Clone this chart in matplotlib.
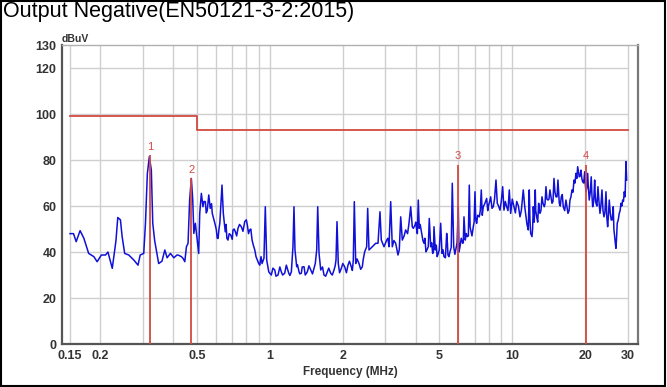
import matplotlib
matplotlib.use('Agg')
import matplotlib.pyplot as plt
from matplotlib.patches import Rectangle

# measured trace (MHz, dBuV): peaks / main shape
freq_mhz = [
    0.150, 0.155, 0.159, 0.165, 0.171, 0.179, 0.188, 0.194, 0.202, 0.210,
    0.215, 0.224, 0.232, 0.236, 0.242, 0.246, 0.252, 0.262, 0.275, 0.286,
    0.292, 0.302, 0.307, 0.3125, 0.3185, 0.3246, 0.329, 0.335, 0.348, 0.359,
    0.369, 0.377, 0.389, 0.402, 0.414, 0.418, 0.432, 0.439, 0.446, 0.453,
    0.460, 0.467, 0.4746, 0.481, 0.486, 0.493, 0.502, 0.509, 0.514, 0.522,
    0.530, 0.542, 0.552, 0.560, 0.568, 0.579, 0.589, 0.602, 0.612, 0.622,
    0.635, 0.643, 0.655, 0.672, 0.690, 0.705, 0.721, 0.739, 0.763, 0.788,
    0.808, 0.826, 0.845, 0.867, 0.888, 0.909, 0.929, 0.946, 0.958, 0.971,
    0.990, 1.014, 1.048, 1.081, 1.115, 1.152, 1.170, 1.197, 1.227, 1.246,
    1.258, 1.270, 1.291, 1.320, 1.349, 1.384, 1.428, 1.475, 1.522, 1.561,
    1.576, 1.596, 1.622, 1.673, 1.726, 1.783, 1.840, 1.875, 1.893, 1.916,
    1.972, 2.036, 2.101, 2.168, 2.210, 2.231, 2.261, 2.333, 2.407, 2.462,
    2.509, 2.533, 2.565, 2.647, 2.733, 2.794, 2.847, 2.883, 2.958, 3.034,
    3.101, 3.152, 3.200, 3.305, 3.378, 3.466, 3.519, 3.634, 3.750, 3.811,
    3.869, 3.906, 3.970, 4.034, 4.096, 4.135, 4.231, 4.324, 4.407, 4.504,
    4.547, 4.608, 4.696, 4.755, 4.814, 4.953, 5.067, 5.130, 5.228, 5.364,
    5.431, 5.535, 5.657, 5.733, 5.859, 5.989, 6.086, 6.244, 6.322, 6.401,
    6.523, 6.648, 6.737, 6.905, 7.018, 7.132, 7.310, 7.451, 7.594, 7.842,
    7.992, 8.146, 8.349, 8.567, 8.673, 8.898, 9.129, 9.242, 9.483, 9.720,
    9.850, 10.16, 10.43, 10.76, 11.10, 11.39, 11.64, 11.75, 11.91, 12.06,
    12.21, 12.44, 12.61, 12.85, 13.01, 13.26, 13.55, 13.77, 14.04, 14.30,
    14.58, 14.86, 15.14, 15.43, 15.63, 15.93, 16.23, 16.65, 16.97, 17.30,
    17.63, 17.97, 18.31, 18.61, 18.89, 19.20, 19.51, 19.89, 20.13, 20.46,
    20.77, 21.17, 21.46, 21.87, 22.14, 22.56, 23.00, 23.44, 23.89, 24.35,
    24.74, 25.12, 25.60, 26.09, 26.44, 26.77, 27.10, 27.62, 28.07, 28.53,
    28.97, 29.44, 29.63,
]
level_dbuv = [
    48.0, 48.0, 44.5, 49.3, 46.0, 39.4, 38.0, 35.8, 38.7, 38.7,
    40.0, 32.9, 45.0, 55.0, 54.0, 46.7, 39.4, 38.7, 36.5, 34.3,
    38.7, 39.4, 52.5, 74.0, 81.5, 75.6, 52.5, 45.0, 35.0, 36.0,
    40.9, 37.5, 39.4, 37.5, 38.7, 38.7, 38.0, 37.2, 35.8, 42.3,
    43.8, 62.6, 72.0, 62.6, 48.1, 52.5, 45.2, 39.4, 56.8, 65.5,
    59.7, 61.9, 58.0, 64.8, 59.0, 56.8, 53.9, 49.6, 45.9, 52.5,
    69.1, 56.8, 48.8, 45.2, 47.4, 49.6, 48.8, 50.3, 51.0, 53.2,
    51.7, 49.6, 45.2, 40.9, 36.5, 34.3, 35.0, 37.3, 59.7, 36.5,
    31.4, 30.0, 32.2, 30.0, 31.4, 30.8, 34.3, 30.8, 31.4, 42.3,
    59.7, 40.9, 33.6, 31.4, 30.8, 33.6, 31.4, 32.2, 32.9, 40.9,
    59.7, 39.4, 32.2, 30.0, 31.4, 30.8, 32.2, 36.5, 53.2, 35.0,
    32.9, 33.6, 34.3, 33.6, 36.5, 61.9, 35.0, 35.0, 33.6, 40.1,
    42.3, 59.0, 40.9, 42.3, 43.8, 43.8, 57.5, 45.2, 42.3, 45.2,
    42.3, 61.9, 42.3, 43.8, 38.7, 55.3, 45.2, 49.6, 52.5, 59.7,
    51.0, 50.3, 51.7, 49.6, 62.6, 50.3, 48.1, 43.8, 40.1, 42.3,
    54.6, 42.3, 39.4, 51.0, 40.9, 39.4, 52.5, 39.4, 38.0, 48.1,
    38.7, 40.1, 69.9, 42.3, 41.6, 59.7, 42.3, 43.8, 55.3, 45.2,
    46.7, 69.1, 49.6, 51.0, 66.2, 52.5, 55.3, 67.0, 59.7, 63.3,
    60.5, 64.0, 59.7, 71.3, 61.2, 58.2, 68.4, 58.2, 59.7, 67.0,
    56.8, 59.7, 62.0, 55.3, 67.0, 55.3, 49.6, 67.0, 48.1, 46.7,
    59.7, 67.0, 55.3, 61.2, 56.8, 64.0, 59.7, 68.4, 62.6, 67.0,
    61.2, 72.0, 64.0, 71.3, 61.2, 64.0, 59.7, 62.6, 56.8, 62.6,
    67.0, 71.3, 74.2, 77.1, 72.7, 75.6, 70.6, 74.9, 66.2, 74.2,
    62.6, 72.7, 59.7, 71.3, 61.2, 68.4, 56.8, 67.0, 55.3, 66.2,
    51.0, 62.6, 53.9, 59.7, 46.7, 41.6, 52.5, 56.8, 61.2, 62.6,
    66.2, 79.3, 71.3,
]

# extra readings of the noise floor between the peaks
noise_freq = [
    0.535, 0.547, 0.575, 0.585, 0.595, 0.607, 0.617, 0.660, 0.665, 0.680,
    0.700, 0.713, 0.730, 0.750, 0.775, 0.800, 0.817, 0.835, 0.855, 0.877,
    0.900, 0.920, 1.03, 1.06, 1.10, 1.13, 1.18, 1.21, 1.30, 1.33,
    1.36, 1.40, 1.45, 1.50, 1.54, 1.65, 1.70, 1.75, 1.81, 1.86,
    1.94, 2.00, 2.07, 2.13, 2.19, 2.29, 2.37, 2.43, 3.07, 3.25,
    3.42, 3.58, 3.70, 4.00, 4.06, 4.17, 4.28, 4.36, 4.45, 4.65,
    4.73, 4.86, 4.90, 5.00, 5.18, 5.30, 5.40, 5.48, 5.60, 5.80,
    5.92, 6.03, 6.16, 6.28, 6.46, 6.59, 6.70, 6.82, 6.96, 7.07,
    7.20, 7.38, 7.52, 7.70, 7.92, 8.07, 8.25, 8.45, 8.78, 9.01,
    9.36, 9.60, 10.0, 10.3, 10.6, 10.9, 11.25, 11.5, 11.83, 12.13,
    12.32, 12.5, 12.73, 12.93, 13.13, 13.4, 13.65, 13.9, 14.17, 14.44,
    14.72, 15.0, 15.3, 15.53, 15.78, 16.08, 16.45, 16.8, 17.15, 17.46,
    17.8, 18.14, 18.46, 18.75, 19.05, 19.36, 19.7, 20.0, 20.3, 20.6,
    20.97, 21.3, 21.67, 22.0, 22.35, 22.78, 23.2, 23.67, 24.1, 24.55,
    24.93, 25.36, 25.84, 26.25, 26.6, 26.92, 27.36, 27.85, 28.3, 28.75,
    29.2,
]
noise_dbuv = [
    62, 57, 61, 55, 52, 46, 50, 52, 46, 48,
    45.5, 50, 47, 52, 49, 54, 48, 50, 43, 38,
    35, 38, 33, 29.5, 33.5, 30, 33, 29.8, 34.5, 30.5,
    33.5, 30, 34, 30.5, 35, 33.5, 29.5, 33, 30, 34,
    31, 35, 31, 36, 32, 37, 32.5, 37, 46, 45,
    41, 47, 48, 53, 48, 52, 45, 46, 41, 44,
    40, 43, 38, 41, 41, 37.5, 44, 38, 42, 39,
    44, 40, 46, 44, 48, 47, 51, 47, 53, 54,
    56, 58, 56, 61, 58, 62, 59, 63, 60, 62,
    62, 58, 63, 57, 60, 58, 60, 52, 54, 50,
    53, 58, 53, 58, 58, 61, 61, 63, 63, 64,
    62, 66, 64, 66, 60, 65, 58, 60, 58, 64,
    66, 70, 72, 75, 73, 72, 70, 70, 68, 68,
    66, 65, 62, 64, 60, 62, 60, 58, 57, 55,
    56, 57, 54, 50, 44, 46, 54, 58, 60, 62,
    64,
]

# limit line
limit_freq = [0.15, 0.5, 0.5, 30]
limit_level = [99, 99, 93, 93]

# markers
marker_freq = [0.32, 0.474, 5.97, 20.13]
marker_level = [82, 72, 78, 78]
marker_labels = ['1', '2', '3', '4']

x_grid = [0.15, 0.2, 0.3, 0.4, 0.5, 0.6, 0.7, 0.8, 0.9, 1,
          2, 3, 4, 5, 6, 7, 8, 9, 10, 20, 30]
x_ticks = [0.15, 0.2, 0.5, 1, 2, 5, 10, 20, 30]
x_ticklabels = ['0.15', '0.2', '0.5', '1', '2', '5', '10', '20', '30']
y_grid = [20, 40, 60, 80, 100, 120]
y_ticks = [0, 20, 40, 60, 80, 100, 120, 130]

plt.rcParams['font.family'] = ['Liberation Sans', 'DejaVu Sans']

trace = sorted(zip(freq_mhz + noise_freq, level_dbuv + noise_dbuv))
trace_f = [p[0] for p in trace]
trace_v = [p[1] for p in trace]

fig = plt.figure(figsize=(6.67, 3.87), dpi=100)
ax = fig.add_axes([0.093, 0.111, 0.8635, 0.7727])

ax.set_xscale('log')
ax.set_xlim(0.139, 33.0)
ax.set_ylim(0, 130)

for f in x_grid:
    ax.axvline(f, color='#cfcfcf', lw=1, zorder=0)
ax.hlines(y_grid, 0.15, 30, color='#cfcfcf', lw=1, zorder=0)

ax.plot(limit_freq, limit_level, color='#d24a43', lw=1.3, zorder=2)

ax.plot(trace_f, trace_v, color='#1010d8', lw=1.1, zorder=3)

for f, v, lab in zip(marker_freq, marker_level, marker_labels):
    ax.vlines(f, 0, v, color='#d24a43', lw=1.3, zorder=4)
    ax.text(f, v + 1.5, lab, color='#d24a43', fontsize=8,
            ha='center', va='bottom', zorder=5)

ax.set_xticks(x_ticks)
ax.set_xticklabels(x_ticklabels)
ax.xaxis.set_minor_locator(matplotlib.ticker.NullLocator())
ax.set_yticks(y_ticks)
ax.tick_params(length=0, labelsize=9, labelcolor='#333333', pad=4)
for t in ax.get_xticklabels() + ax.get_yticklabels():
    t.set_fontweight('bold')

ax.set_xlabel('Frequency (MHz)', fontsize=8.5, fontweight='bold',
              color='#333333', labelpad=3)
ax.text(0.0, 1.005, 'dBuV', transform=ax.transAxes, fontsize=7.5,
        fontweight='bold', color='#333333', ha='left', va='bottom')

ax.spines['left'].set_color('#555555')
ax.spines['left'].set_linewidth(1.6)
ax.spines['bottom'].set_color('#555555')
ax.spines['bottom'].set_linewidth(1.6)
ax.spines['top'].set_color('#b0b0b0')
ax.spines['top'].set_linewidth(1)
ax.spines['right'].set_color('#777777')
ax.spines['right'].set_linewidth(1.6)

fig.text(0.005, 0.997, 'Output Negative(EN50121-3-2:2015)', fontsize=15.5,
         ha='left', va='top', color='black')

fig.patches.append(Rectangle((0.0015, 0.003), 0.996, 0.994, transform=fig.transFigure,
                             fill=False, edgecolor='black', lw=1.5))

fig.savefig('out.png', dpi=100)
